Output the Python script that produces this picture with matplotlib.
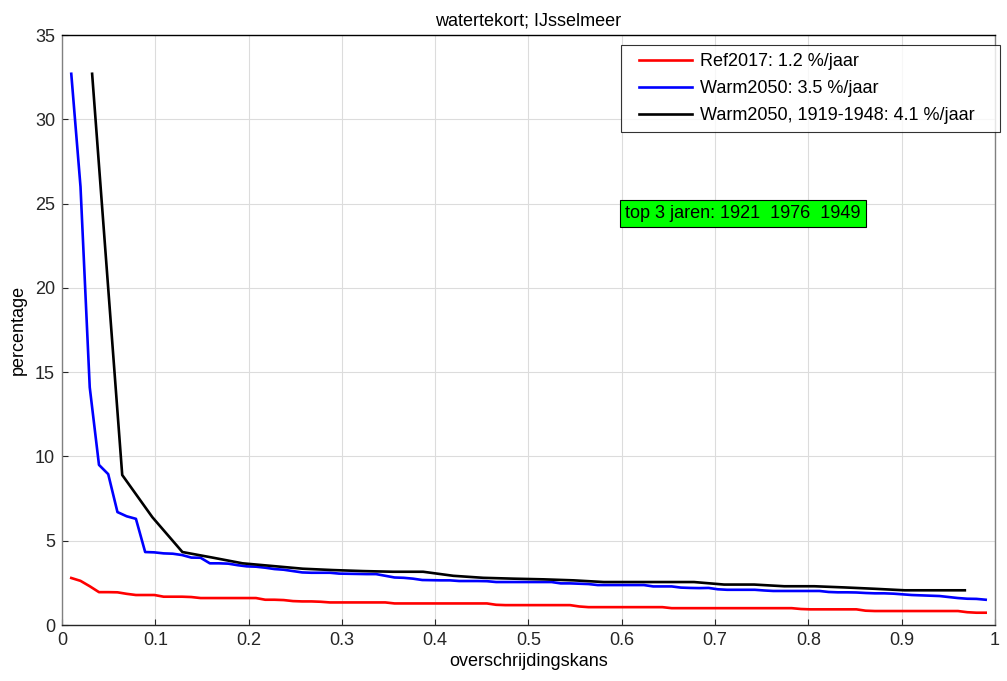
import numpy as np
import matplotlib
matplotlib.use("Agg")
import matplotlib.pyplot as plt
from matplotlib.path import Path

plt.rcParams['font.family'] = ['Liberation Sans', 'DejaVu Sans']

# Ref2017 (100 years)
ref2017 = [2.79, 2.62, 2.3, 1.95, 1.95, 1.94, 1.85, 1.78, 1.78, 1.78,
           1.68, 1.68, 1.68, 1.66, 1.6, 1.6, 1.6, 1.6, 1.6, 1.6,
           1.6, 1.5, 1.5, 1.48, 1.42, 1.4, 1.4, 1.38, 1.34, 1.34,
           1.34, 1.34, 1.34, 1.34, 1.34, 1.28, 1.28, 1.28, 1.28, 1.28,
           1.28, 1.28, 1.28, 1.28, 1.28, 1.28, 1.2, 1.18, 1.18, 1.18,
           1.18, 1.18, 1.18, 1.18, 1.18, 1.1, 1.06, 1.06, 1.06, 1.06,
           1.06, 1.06, 1.06, 1.06, 1.06, 1.0, 1.0, 1.0, 1.0, 1.0,
           1.0, 1.0, 1.0, 1.0, 1.0, 1.0, 1.0, 1.0, 1.0, 0.95,
           0.93, 0.93, 0.93, 0.93, 0.93, 0.93, 0.85, 0.83, 0.83, 0.83,
           0.83, 0.83, 0.83, 0.83, 0.83, 0.83, 0.83, 0.76, 0.73, 0.73]

# Warm2050 (100 years)
warm2050 = [32.7, 26.0, 14.1, 9.5, 8.95, 6.7, 6.45, 6.3, 4.33, 4.31,
            4.25, 4.23, 4.15, 4.0, 3.99, 3.66, 3.66, 3.64, 3.55, 3.48,
            3.46, 3.4, 3.32, 3.28, 3.2, 3.12, 3.1, 3.1, 3.1, 3.05,
            3.04, 3.03, 3.02, 3.02, 2.92, 2.82, 2.8, 2.75, 2.67, 2.66,
            2.65, 2.65, 2.61, 2.61, 2.61, 2.6, 2.55, 2.55, 2.55, 2.55,
            2.55, 2.55, 2.55, 2.47, 2.47, 2.45, 2.43, 2.37, 2.37, 2.37,
            2.37, 2.37, 2.37, 2.29, 2.29, 2.29, 2.22, 2.2, 2.19, 2.2,
            2.12, 2.09, 2.09, 2.09, 2.09, 2.05, 2.02, 2.02, 2.02, 2.02,
            2.02, 2.02, 1.96, 1.94, 1.94, 1.93, 1.9, 1.88, 1.88, 1.86,
            1.82, 1.78, 1.76, 1.74, 1.72, 1.66, 1.6, 1.56, 1.55, 1.5]

# Warm2050 with 1919-1948 (30 years)
warm2050_1919 = [32.7, 8.9, 6.4, 4.33, 4.0, 3.66, 3.5, 3.34, 3.26, 3.2,
                 3.16, 3.16, 2.92, 2.8, 2.75, 2.71, 2.65, 2.55, 2.55, 2.55,
                 2.55, 2.4, 2.4, 2.3, 2.3, 2.23, 2.15, 2.06, 2.06, 2.06]

labels = ['Ref2017: 1.2 %/jaar', 'Warm2050: 3.5 %/jaar',
          'Warm2050, 1919-1948: 4.1 %/jaar']

# overschrijdingskans = rank / (n + 1)
x100 = np.arange(1, len(ref2017) + 1) / (len(ref2017) + 1)
x30 = np.arange(1, len(warm2050_1919) + 1) / (len(warm2050_1919) + 1)

fs = 13
lw = 1.9


# legend frame with extra room left/right, like matlab
def wide_box(x0, y0, width, height, mutation_size):
    l = x0 - 10
    r = x0 + width + 17
    t = y0 + height
    verts = [(l, y0), (r, y0), (r, t), (l, t), (l, y0)]
    codes = [Path.MOVETO, Path.LINETO, Path.LINETO, Path.LINETO,
             Path.CLOSEPOLY]
    return Path(verts, codes)


fig = plt.figure(figsize=(10.07, 6.81), dpi=100)
ax = fig.add_axes([0.0616, 0.0822, 0.9264, 0.8664])

ax.plot(x100, ref2017, color=(1, 0, 0), lw=lw, label=labels[0])
ax.plot(x100, warm2050, color=(0, 0, 1), lw=lw, label=labels[1])
ax.plot(x30, warm2050_1919, color='black', lw=lw, label=labels[2])

ax.set_xlim(0, 1)
ax.set_ylim(0, 35)
ax.set_xticks(np.arange(0, 1.01, 0.1))
ax.set_xticklabels(['0', '0.1', '0.2', '0.3', '0.4', '0.5', '0.6', '0.7',
                    '0.8', '0.9', '1'])
ax.set_yticks(np.arange(0, 36, 5))
ax.grid(True, color='#dcdcdc', lw=0.8)
ax.set_axisbelow(True)
ax.tick_params(direction='in', length=4, labelsize=fs, colors='#262626',
               pad=5)
ax.spines['top'].set_color('black')
ax.spines['bottom'].set_color('#262626')
ax.spines['left'].set_color('#808080')
ax.spines['right'].set_color('#808080')
for s in ax.spines.values():
    s.set_linewidth(1.0)

ax.set_xlabel('overschrijdingskans', fontsize=fs, labelpad=3)
ax.set_ylabel('percentage', fontsize=fs, labelpad=6)
ax.set_title('watertekort; IJsselmeer', fontsize=fs, pad=7)

leg = ax.legend(loc='upper right', bbox_to_anchor=(0.987, 0.983),
                borderaxespad=0, fontsize=fs, frameon=True, fancybox=False,
                edgecolor='black', handlelength=2.95, handletextpad=0.45,
                borderpad=0.45, labelspacing=0.55)
leg.get_frame().set_linewidth(0.8)
leg.get_frame().set_boxstyle(wide_box)

ax.text(0.6035, 24.4, 'top 3 jaren: 1921  1976  1949', fontsize=fs,
        va='center', ha='left',
        bbox=dict(facecolor=(0, 1, 0), edgecolor='black', lw=0.8,
                  boxstyle='square,pad=0.28'))

fig.savefig('out.png', dpi=100)
